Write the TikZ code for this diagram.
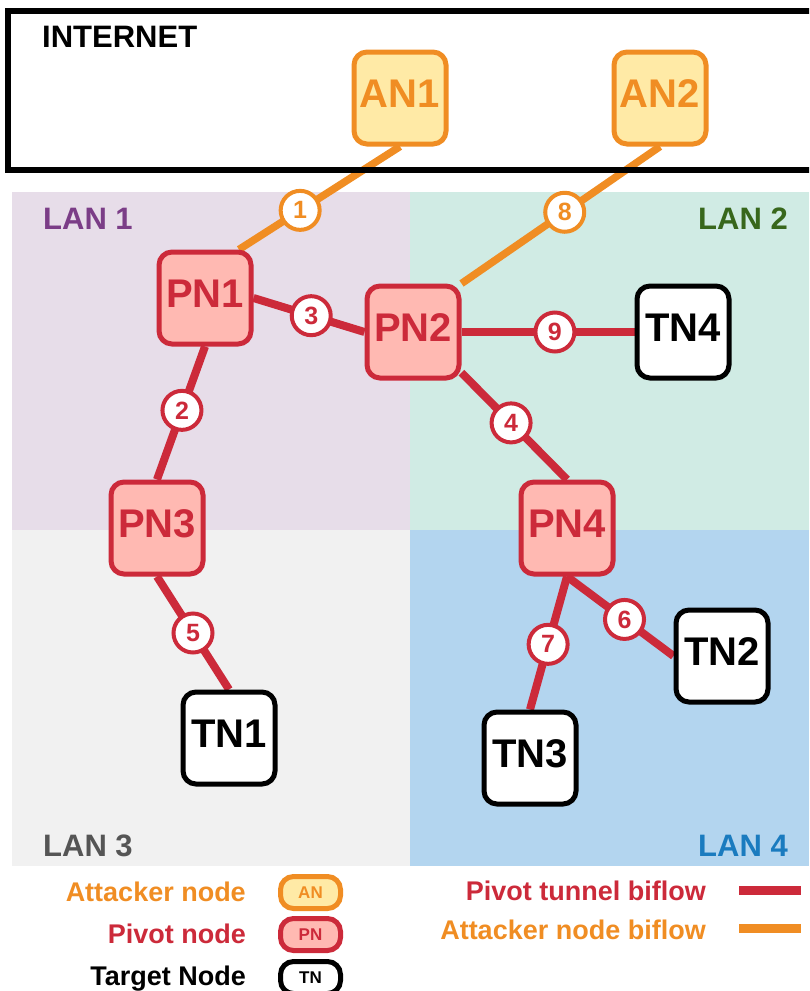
\documentclass[tikz,border=0pt]{standalone}
\usepackage{fontspec}
\setmainfont{Liberation Sans}
\usetikzlibrary{positioning}

\definecolor{anorange}{RGB}{240,141,35}
\definecolor{anyellow}{RGB}{255,234,166}
\definecolor{pnred}{RGB}{204,42,58}
\definecolor{pnpink}{RGB}{255,185,178}
\definecolor{lanpurple}{RGB}{231,221,233}
\definecolor{lanteal}{RGB}{208,235,228}
\definecolor{langray}{RGB}{241,241,241}
\definecolor{lanblue}{RGB}{179,213,239}
\definecolor{txtpurple}{RGB}{123,61,135}
\definecolor{txtgreen}{RGB}{56,103,28}
\definecolor{txtgray}{RGB}{85,85,85}
\definecolor{txtblue}{RGB}{26,123,191}

\newcommand{\fsz}[1]{\fontsize{#1}{#1}\bfseries\selectfont}

\pgfdeclarelayer{lans}
\pgfdeclarelayer{links}
\pgfsetlayers{lans,links,main}

\begin{document}
\begin{tikzpicture}[x=1pt,y=-1pt,
    host/.style={rounded corners=13pt,line width=5pt,minimum size=92pt,
        inner sep=0pt,text height=28pt,text depth=10pt,font=\fsz{40}},
    an/.style={host,draw=anorange,fill=anyellow,text=anorange},
    pn/.style={host,draw=pnred,fill=pnpink,text=pnred},
    tn/.style={host,draw=black,fill=white},
    num/.style={circle,draw,fill=white,line width=4pt,minimum size=39pt,
        inner sep=0pt,font=\fsz{25}},
    tunnel/.style={pnred,line width=8pt},
    anflow/.style={anorange,line width=7.5pt},
    lanlabel/.style={font=\fsz{31},inner sep=0pt},
    legtext/.style={font=\fsz{27},inner sep=0pt,anchor=base east},
    legbox/.style={rounded corners=13pt,line width=5pt,minimum width=60pt,
        minimum height=32pt,inner sep=0pt,font=\fsz{17}}]

\useasboundingbox (0,0) rectangle (809,991);
\clip (0,0) rectangle (809,991);

% the four LANs
\begin{pgfonlayer}{lans}
\fill[lanpurple] (12,192) rectangle (410,530);
\fill[lanteal]   (410,192) rectangle (809,530);
\fill[langray]   (12,530) rectangle (410,866);
\fill[lanblue]   (410,530) rectangle (809,866);
\node[lanlabel,txtpurple,anchor=base west] (lan1) at (43,229) {LAN 1};
\node[lanlabel,txtgreen,anchor=base east]  (lan2) at (788,229) {LAN 2};
\node[lanlabel,txtgray,anchor=base west]   (lan3) at (43,856) {LAN 3};
\node[lanlabel,txtblue,anchor=base east]   (lan4) at (788,856) {LAN 4};
\end{pgfonlayer}

% internet
\draw[line width=6pt] (8,11) rectangle (830,170);
\node[lanlabel,anchor=base west] (inet) at (42,47) {INTERNET};

% hosts
\node[an] (AN1) at (400,98) {AN1};
\node[an] (AN2) at (660,98) {AN2};
\node[pn] (PN1) at (205,298) {PN1};
\node[pn] (PN2) at (413,332) {PN2};
\node[pn] (PN3) at (157,528) {PN3};
\node[pn] (PN4) at (567,528) {PN4};
\node[tn] (TN1) at (229,738) {TN1};
\node[tn] (TN2) at (722,656) {TN2};
\node[tn] (TN3) at (530,758) {TN3};
\node[tn] (TN4) at (683,332) {TN4};

% biflows
\begin{pgfonlayer}{links}
\draw[anflow] (AN1.south) -- node[num,pos=.62]{1} (PN1.55);
\draw[anflow] (AN2.south) -- node[num,pos=.48]{8} (PN2.north east);
\draw[tunnel] (PN1.south) -- node[num,pos=.48]{2} (PN3.north);
\draw[tunnel] (PN1.east) -- node[num,pos=.52]{3} (PN2.west);
\draw[tunnel] (PN2.-40) -- node[num,pos=.47]{4} (PN4.north);
\draw[tunnel] (PN3.south) -- node[num,pos=.5]{5} (TN1.north);
\draw[tunnel] (PN4.south) -- node[num,pos=.54]{6} (TN2.west);
\draw[tunnel] (PN4.south) -- node[num,pos=.51]{7} (TN3.north);
\draw[tunnel] (PN2.east) -- node[num,pos=.54]{9} (TN4.west);
\end{pgfonlayer}

% legend
\node[legtext,anorange] (lgan) at (246,901) {Attacker node};
\node[legtext,pnred]    (lgpn) at (246,943) {Pivot node};
\node[legtext]          (lgtn) at (246,985) {Target Node};
\node[legbox,draw=anorange,fill=anyellow,text=anorange] (boxan) at (310.5,892.5) {AN};
\node[legbox,draw=pnred,fill=pnpink,text=pnred]         (boxpn) at (310.5,934.5) {PN};
\node[legbox,draw=black,fill=white]                     (boxtn) at (310.5,977.5) {TN};

\node[legtext,pnred]    (lgtunnel) at (706,900) {Pivot tunnel biflow};
\node[legtext,anorange] (lgflow)   at (706,939) {Attacker node biflow};
\draw[pnred,line width=9pt] (739,890.5) -- (801,890.5);
\draw[anorange,line width=9pt] (739,928.5) -- (801,928.5);

\end{tikzpicture}
\end{document}
